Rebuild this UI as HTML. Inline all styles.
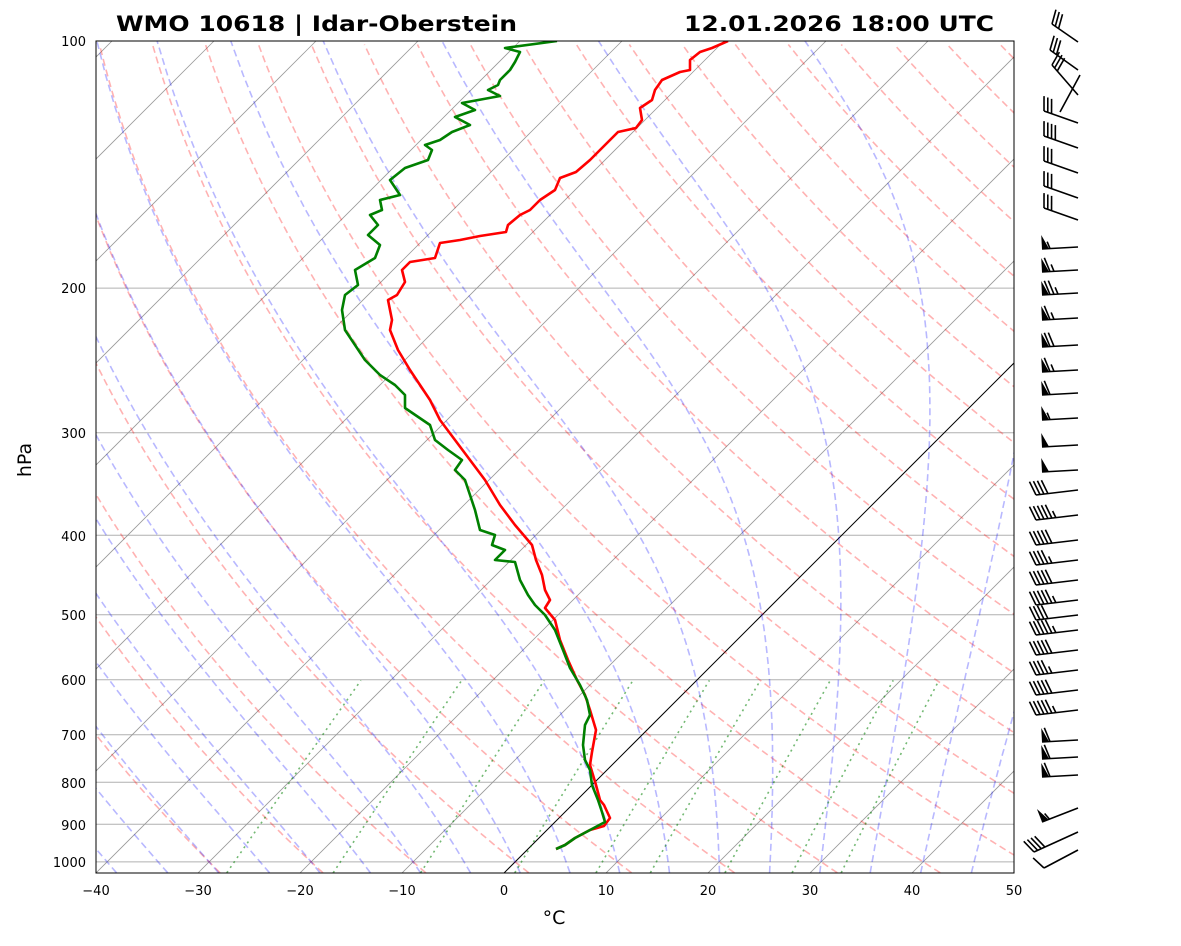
<!DOCTYPE html>
<html><head><meta charset="utf-8"><style>
body{margin:0;background:#fff;}
svg text{font-family:"DejaVu Sans","Liberation Sans",sans-serif;}
</style></head><body>
<svg id="s" width="1181" height="941" xmlns="http://www.w3.org/2000/svg">
<defs><clipPath id="c"><rect x="96" y="41" width="918" height="832"/></clipPath></defs>
<rect width="1181" height="941" fill="#fff"/>
<g id="bg" clip-path="url(#c)"></g>
<g clip-path="url(#c)">
<polyline fill="none" stroke="#ff0000" stroke-width="2.6" stroke-linejoin="round" points="728,41 712,48 700,52 690,60 690,70 680,72 662,80 655,90 652,100 640,108 642,120 636,128 618,132 610,140 600,150 590,160 576,172 560,178 555,190 540,200 530,210 520,215 508,225 506,232 480,236 460,240 440,243 435,258 410,262 402,270 405,282 397,295 388,300 392,320 390,330 398,350 410,370 420,385 430,400 440,420 455,440 470,460 485,480 500,505 515,525 532,545 536,560 542,575 545,590 550,600 545,608 555,620 560,640 568,660 577,680 585,695 590,710 596,730 592,752 590,765 596,785 600,800 604,805 610,818 604,826 590,830 575,838 565,845 556,849"/>
<polyline fill="none" stroke="#008000" stroke-width="2.6" stroke-linejoin="round" points="557,41 505,48 520,52 515,62 510,70 500,80 498,85 488,90 500,96 462,103 475,110 455,117 470,125 452,132 440,140 425,145 432,150 428,160 405,168 390,180 400,195 380,200 382,210 370,215 378,225 368,235 380,245 375,258 355,270 358,285 345,295 342,310 345,330 355,345 365,360 380,375 395,385 405,395 405,408 430,425 435,440 448,450 462,460 455,470 465,480 470,495 475,510 480,530 495,535 492,545 505,550 495,560 515,562 520,580 528,595 535,605 545,615 555,630 563,650 570,668 580,685 587,700 590,715 585,725 583,745 585,760 590,770 592,785 598,800 602,812 605,822 590,830 575,838 565,845 556,849"/>
</g>
<g id="barbs"></g>
<rect x="96" y="41" width="918" height="832" fill="none" stroke="#000" stroke-width="1"/>
<g font-size="13" text-anchor="end">
<text x="86" y="46">100</text><text x="86" y="293">200</text><text x="86" y="438">300</text><text x="86" y="541">400</text><text x="86" y="620">500</text><text x="86" y="685">600</text><text x="86" y="740">700</text><text x="86" y="788">800</text><text x="86" y="830">900</text><text x="86" y="867">1000</text>
</g>
<g font-size="13" text-anchor="middle">
<text x="96" y="895">−40</text><text x="198" y="895">−30</text><text x="300" y="895">−20</text><text x="402" y="895">−10</text><text x="504" y="895">0</text><text x="606" y="895">10</text><text x="708" y="895">20</text><text x="810" y="895">30</text><text x="912" y="895">40</text><text x="1014" y="895">50</text>
</g>
<text x="554" y="924" font-size="19" text-anchor="middle">°C</text>
<text x="0" y="0" font-size="19" text-anchor="middle" transform="translate(31,460) rotate(-90)">hPa</text>
<text x="116" y="31" font-size="21" font-weight="bold" textLength="401" lengthAdjust="spacingAndGlyphs">WMO 10618 | Idar-Oberstein</text>
<text x="684" y="31" font-size="21" font-weight="bold" textLength="310" lengthAdjust="spacingAndGlyphs">12.01.2026 18:00 UTC</text>
</svg>
<script>
(function(){
var NS="http://www.w3.org/2000/svg";
function Y(p){return 41+356.5*Math.log(p/100);}
function X(T,p){return 96+(T+40)*10.2+(873-Y(p));}
var bg=document.getElementById("bg");
function line(pts,stroke,w,dash){var e=document.createElementNS(NS,"polyline");e.setAttribute("points",pts.map(function(a){return a[0].toFixed(1)+","+a[1].toFixed(1)}).join(" "));e.setAttribute("fill","none");e.setAttribute("stroke",stroke);e.setAttribute("stroke-width",w);if(dash)e.setAttribute("stroke-dasharray",dash);bg.appendChild(e);}
[200,300,400,500,600,700,800,900,1000].forEach(function(p){line([[96,Y(p)],[1014,Y(p)]],"#b0b0b0",1);});
for(var t=-130;t<=50;t+=10){line([[X(t,1031),Y(1031)],[X(t,100),Y(100)]],t==0?"#000":"#999",t==0?1:0.8);}
var ps=[];for(var p=1031;p>=99;p-=5)ps.push(p);
for(var t0=-30;t0<=200;t0+=10){var th=t0+273.15;line(ps.map(function(p){return [X(th*Math.pow(p/1000,0.2857)-273.15,p),Y(p)]}),"rgba(255,0,0,0.3)",1.6,"7,4");}
function es(T){return 6.112*Math.exp(17.67*T/(T+243.5));}
function dTdp(T,p){var Tk=T+273.15,rs=0.622*es(T)/(p-es(T)),L=2.501e6,Rd=287,cp=1005;return (Rd*Tk+L*rs)/(p*(cp+L*L*rs*0.622/(Rd*Tk*Tk)));}
for(var t0=-50;t0<=45;t0+=5){var pts=[];var T=t0;var p=1000;
 var Td=t0;for(var q=1000;q<1031;q+=1){Td+=dTdp(Td,q);} pts.push([X(Td,1031),Y(1031)]);
 T=t0;pts.push([X(T,1000),Y(1000)]);
 for(p=1000;p>100;p-=2){var k1=dTdp(T,p),k2=dTdp(T-k1,p-2);T-=(k1+k2);if(p%10==2)pts.push([X(T,p-2),Y(p-2)]);}
 line(pts,"rgba(0,0,255,0.28)",1.6,"7,4");}
[0.0004,0.001,0.002,0.004,0.007,0.01,0.016,0.024,0.032].forEach(function(w){var pts=[];for(var p=1031;p>=600;p-=10){var e=w*p/(0.622+w),l=Math.log(e/6.112);var T=243.5*l/(17.67-l);pts.push([X(T,p),Y(p)]);}line(pts,"rgba(0,128,0,0.55)",1.6,"2,4");});
var bb=document.getElementById("barbs");
function el(n,a){var e=document.createElementNS(NS,n);for(var k in a)e.setAttribute(k,a[k]);bb.appendChild(e);}
function barb(bx,by,tx,ty,f,n,h){el("line",{x1:bx,y1:by,x2:tx,y2:ty,stroke:"#000","stroke-width":1.6});
 var L=Math.hypot(tx-bx,ty-by),ux=(tx-bx)/L,uy=(ty-by)/L;var nx=uy,ny=-ux; if(ny>0){nx=-nx;ny=-ny;}
 var d=0;
 for(var i=0;i<f;i++){var ax=tx-ux*d,ay=ty-uy*d,cx=tx-ux*(d+7),cy=ty-uy*(d+7);el("polygon",{points:ax+","+ay+" "+(ax+nx*14)+","+(ay+ny*14)+" "+cx+","+cy,fill:"#000"});d+=8;}
 function bar(len){var ax=tx-ux*d,ay=ty-uy*d;el("line",{x1:ax,y1:ay,x2:ax+nx*len+ux*len*0.35,y2:ay+ny*len+uy*len*0.35,stroke:"#000","stroke-width":1.6});d+=4;}
 for(var i=0;i<n;i++)bar(14);for(var i=0;i<h;i++)bar(7);}
barb(1078,42,1052,24,0,3,0);barb(1078,70,1050,50,0,3,0);barb(1078,95,1052,65,0,3,0);barb(1060,112,1080,75,0,0,0);
[[115,3,0],[140,4,0],[165,3,0],[190,3,0],[212,3,0]].forEach(function(a){barb(1078,a[0]+8,1044,a[0]-4,0,a[1],a[2]);});
[[247,0,1],[270,1,1],[293,2,1],[318,1,1],[345,2,0],[370,1,1],[393,1,0],[418,0,1],[445,0,0],[470,0,0]].forEach(function(a){barb(1078,a[0],1042,a[0]+2,1,a[1],a[2]);});
[490,515,540,560,580,600,615,630,650,670,690,710].forEach(function(y,i){barb(1078,y,1036,y+5,0,(i%3==0)?4:5,i%2);});
[740,757,775].forEach(function(y){barb(1078,y,1042,y+2,1,1,0);});
barb(1078,808,1042,822,1,0,1);barb(1078,832,1034,852,0,4,0);barb(1078,850,1044,868,0,1,0);
})();
</script>
</body></html>
